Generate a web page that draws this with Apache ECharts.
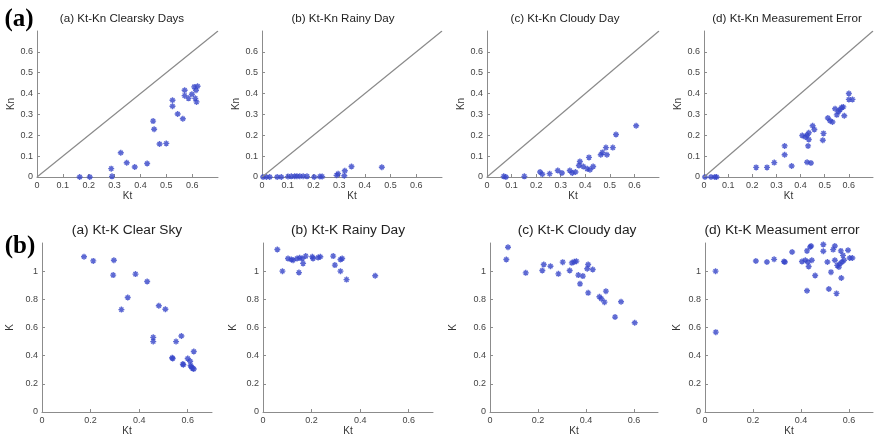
<!DOCTYPE html>
<html>
<head>
<meta charset="utf-8">
<title>Kt-Kn / Kt-K</title>
<script src="https://cdn.jsdelivr.net/npm/echarts@6/dist/echarts.min.js"></script>
<style>
  html, body { margin: 0; padding: 0; background: #fff; }
  #chart { width: 874px; height: 437px; }
</style>
</head>
<body>
<div id="chart"></div>
<script>
// titles of the panels
var topTitles = ['(a) Kt-Kn Clearsky Days', '(b) Kt-Kn Rainy Day', '(c) Kt-Kn Cloudy Day', '(d) Kt-Kn Measurement Error'];
var bottomTitles = ['(a) Kt-K Clear Sky', '(b) Kt-K Rainy Day', '(c) Kt-K Cloudy day', '(d) Kt-K Measument error'];

// row (a): [Kt, Kn]
var knClear = [[0.165, 0], [0.204, 0], [0.287, 0.04], [0.29, 0.003], [0.324, 0.116], [0.347, 0.068],
  [0.378, 0.048], [0.426, 0.065], [0.449, 0.268], [0.453, 0.229], [0.474, 0.158], [0.5, 0.161],
  [0.524, 0.368], [0.524, 0.339], [0.544, 0.302], [0.564, 0.279], [0.571, 0.416], [0.571, 0.39],
  [0.586, 0.377], [0.599, 0.397], [0.608, 0.432], [0.612, 0.377], [0.615, 0.416], [0.621, 0.435], [0.617, 0.36]];
var knRainy = [[0.004, 0], [0.017, 0], [0.03, 0], [0.059, 0], [0.075, 0], [0.101, 0.002], [0.114, 0.003],
  [0.127, 0.004], [0.136, 0.004], [0.147, 0.004], [0.16, 0.004], [0.175, 0.003], [0.203, 0], [0.225, 0.002],
  [0.234, 0.002], [0.29, 0.008], [0.296, 0.016], [0.32, 0.006], [0.322, 0.03], [0.348, 0.05], [0.466, 0.047]];
var knCloudy = [[0.068, 0.003], [0.077, 0], [0.152, 0.003], [0.216, 0.024], [0.225, 0.013], [0.255, 0.016],
  [0.288, 0.031], [0.305, 0.019], [0.337, 0.031], [0.347, 0.019], [0.36, 0.024], [0.374, 0.055], [0.378, 0.074],
  [0.392, 0.05], [0.408, 0.039], [0.419, 0.035], [0.415, 0.094], [0.432, 0.05], [0.463, 0.107], [0.47, 0.118],
  [0.484, 0.141], [0.488, 0.107], [0.525, 0.204], [0.512, 0.141], [0.607, 0.246]];
var knError = [[0.004, 0], [0.029, 0], [0.045, 0], [0.052, 0], [0.216, 0.046], [0.261, 0.046], [0.291, 0.069],
  [0.334, 0.149], [0.334, 0.107], [0.363, 0.053], [0.407, 0.199], [0.42, 0.192], [0.427, 0.2], [0.434, 0.212],
  [0.434, 0.18], [0.431, 0.149], [0.427, 0.071], [0.443, 0.067], [0.45, 0.246], [0.457, 0.228], [0.495, 0.209],
  [0.492, 0.176], [0.513, 0.283], [0.522, 0.27], [0.532, 0.264], [0.543, 0.327], [0.55, 0.298], [0.557, 0.314],
  [0.563, 0.322], [0.57, 0.333], [0.577, 0.336], [0.581, 0.294], [0.6, 0.4], [0.6, 0.372], [0.615, 0.372]];

// row (b): [Kt, K]
var kClear = [[0.173, 1.102], [0.211, 1.073], [0.296, 1.078], [0.293, 0.972], [0.385, 0.979], [0.433, 0.927],
  [0.353, 0.813], [0.327, 0.727], [0.481, 0.754], [0.508, 0.73], [0.458, 0.53], [0.458, 0.5], [0.574, 0.54],
  [0.552, 0.5], [0.536, 0.385], [0.538, 0.38], [0.58, 0.34], [0.582, 0.335], [0.6, 0.38], [0.61, 0.36],
  [0.612, 0.33], [0.615, 0.32], [0.62, 0.31], [0.625, 0.305], [0.625, 0.43]];
var kRainy = [[0.059, 1.154], [0.08, 1.0], [0.103, 1.09], [0.117, 1.083], [0.124, 1.078], [0.14, 1.09],
  [0.151, 1.095], [0.148, 0.99], [0.162, 1.09], [0.165, 1.055], [0.176, 1.107], [0.203, 1.102], [0.206, 1.09],
  [0.227, 1.097], [0.236, 1.102], [0.289, 1.107], [0.296, 1.043], [0.319, 1.0], [0.319, 1.083], [0.326, 1.09],
  [0.344, 0.94], [0.462, 0.967]];
var kCloudy = [[0.075, 1.17], [0.068, 1.083], [0.149, 0.988], [0.218, 1.005], [0.224, 1.047], [0.252, 1.035],
  [0.285, 0.981], [0.303, 1.064], [0.332, 1.005], [0.341, 1.059], [0.351, 1.066], [0.36, 1.071], [0.368, 0.972],
  [0.375, 0.91], [0.387, 0.965], [0.405, 1.017], [0.409, 1.047], [0.409, 0.846], [0.428, 1.012], [0.456, 0.818],
  [0.464, 0.804], [0.477, 0.78], [0.483, 0.858], [0.521, 0.674], [0.546, 0.783], [0.603, 0.634]];
var kError = [[0.044, 1.0], [0.045, 0.567], [0.212, 1.072], [0.258, 1.065], [0.288, 1.084], [0.329, 1.069],
  [0.333, 1.065], [0.363, 1.136], [0.404, 1.069], [0.418, 1.077], [0.429, 1.065], [0.432, 1.033], [0.425, 1.144],
  [0.438, 1.172], [0.442, 1.179], [0.445, 1.077], [0.425, 0.861], [0.459, 0.969], [0.493, 1.189], [0.493, 1.141],
  [0.51, 1.065], [0.516, 0.873], [0.525, 0.993], [0.534, 1.153], [0.541, 1.179], [0.541, 1.077], [0.551, 1.041],
  [0.558, 1.029], [0.562, 1.053], [0.548, 0.842], [0.566, 1.144], [0.575, 1.112], [0.579, 1.077], [0.571, 1.065],
  [0.568, 0.952], [0.596, 1.148], [0.603, 1.093], [0.614, 1.093]];

// the Kn = Kt line in the upper row
var diagonal = [[0, 0], [0.7, 0.7]];

var topData = [knClear, knRainy, knCloudy, knError];
var bottomData = [kClear, kRainy, kCloudy, kError];

var grids = [
  {left: 37, top: 31, width: 181, height: 146},
  {left: 262, top: 31, width: 180, height: 146},
  {left: 487, top: 31, width: 172, height: 146},
  {left: 704, top: 31, width: 169, height: 146},
  {left: 42, top: 243, width: 170, height: 169},
  {left: 263, top: 243, width: 170, height: 169},
  {left: 490, top: 243, width: 168, height: 169},
  {left: 705, top: 243, width: 168, height: 169}
];
var yNameGaps = [21, 20, 20, 19, 27, 25, 32, 23];
var titleX = [122, 343, 565, 787, 127, 348, 577, 782];

var star = 'path://M5,0L5,10M0,5L10,5M1.6,1.6L8.4,8.4M1.6,8.4L8.4,1.6';
var blue = '#3444c8';
var axisGray = '#8c8c8c';
var font = 'Liberation Sans, Arial, sans-serif';

function axisCommon() {
  return {
    min: 0,
    axisLine: {show: true, lineStyle: {color: axisGray, width: 1}},
    axisTick: {show: true, inside: true, length: 3, lineStyle: {color: axisGray}},
    axisLabel: {color: '#444', fontSize: 9, fontFamily: font, margin: 4, showMaxLabel: false},
    splitLine: {show: false},
    nameLocation: 'middle',
    nameTextStyle: {color: '#333', fontSize: 10, fontFamily: font}
  };
}

var xAxes = [], yAxes = [], series = [], graphic = [];
for (var i = 0; i < 8; i++) {
  var isTop = i < 4;
  var xa = axisCommon();
  xa.gridIndex = i;
  xa.type = 'value';
  xa.max = 0.7;
  xa.interval = isTop ? 0.1 : 0.2;
  xa.name = 'Kt';
  xa.nameGap = 14;
  xAxes.push(xa);

  var ya = axisCommon();
  ya.gridIndex = i;
  ya.type = 'value';
  ya.max = isTop ? 0.7 : 1.2;
  ya.interval = isTop ? 0.1 : 0.2;
  ya.name = isTop ? 'Kn' : 'K';
  ya.nameGap = yNameGaps[i];
  yAxes.push(ya);

  if (isTop) {
    series.push({
      type: 'line', xAxisIndex: i, yAxisIndex: i, data: diagonal,
      symbol: 'none', silent: true,
      lineStyle: {color: '#8a8a8a', width: 1.2}
    });
  }
  series.push({
    type: 'scatter', xAxisIndex: i, yAxisIndex: i,
    data: isTop ? topData[i] : bottomData[i - 4],
    symbol: star, symbolSize: 6,
    itemStyle: {color: blue, borderColor: blue, borderWidth: 1.4}
  });

  // titles placed by x/y only (left/top would override them)
  graphic.push({
    type: 'text',
    x: titleX[i], y: isTop ? 19 : 230,
    style: {
      text: isTop ? topTitles[i] : bottomTitles[i - 4],
      fill: '#222', font: (isTop ? '11.6px ' : '13.7px ') + font,
      textAlign: 'center', textVerticalAlign: 'middle'
    }
  });
}

graphic.push({type: 'text', x: 19, y: 20, style: {text: '(a)', fill: '#000', font: 'bold 25px Liberation Serif, serif', textAlign: 'center', textVerticalAlign: 'middle'}});
graphic.push({type: 'text', x: 20, y: 247, style: {text: '(b)', fill: '#000', font: 'bold 25px Liberation Serif, serif', textAlign: 'center', textVerticalAlign: 'middle'}});

var chart = echarts.init(document.getElementById('chart'), null, {renderer: 'canvas'});
chart.setOption({
  backgroundColor: '#fff',
  animation: false,
  grid: grids,
  xAxis: xAxes,
  yAxis: yAxes,
  series: series,
  graphic: graphic
});
</script>
</body>
</html>
